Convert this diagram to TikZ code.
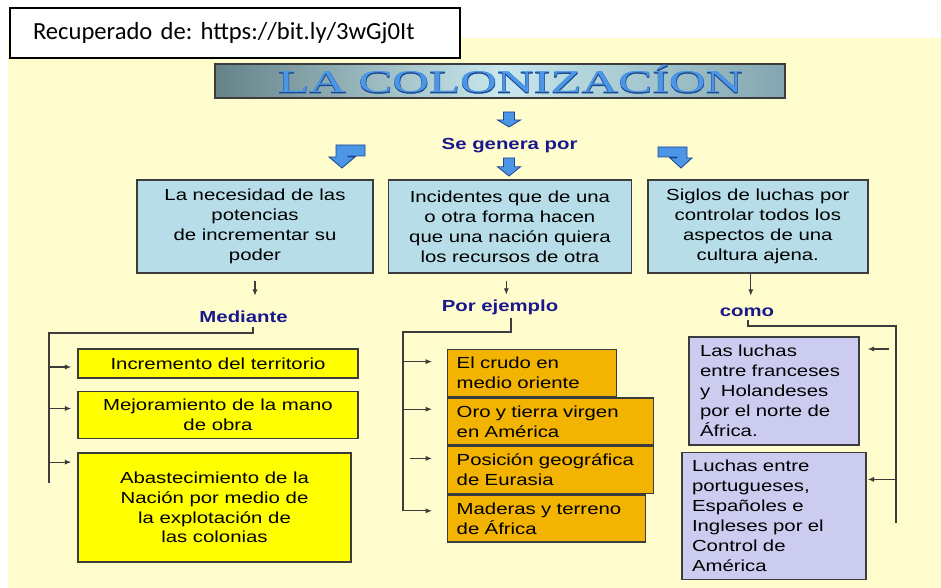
\documentclass[tikz,border=0pt]{standalone}
\usepackage{fontspec}
\usetikzlibrary{positioning,arrows.meta}
\newfontfamily\boxfont[FakeStretch=1.27]{Liberation Sans}
\newfontfamily\srcfont{Carlito}
\newfontfamily\titlefont[FakeStretch=1.6]{Liberation Serif}
\newfontfamily\titleedge[FakeStretch=1.6,FakeBold=2.5]{Liberation Serif}
\definecolor{bgyellow}{RGB}{255,252,205}
\definecolor{boxblue}{RGB}{183,221,232}
\definecolor{boxyellow}{RGB}{255,255,0}
\definecolor{boxorange}{RGB}{242,180,0}
\definecolor{boxlila}{RGB}{204,204,240}
\definecolor{arrblue}{RGB}{75,150,230}
\definecolor{arredge}{RGB}{30,70,140}
\definecolor{labelblue}{RGB}{25,25,140}
\definecolor{barleft}{RGB}{100,130,135}
\definecolor{barmid}{RGB}{200,232,238}
\definecolor{barright}{RGB}{130,165,175}
\definecolor{linegray}{RGB}{60,60,60}
\frenchspacing

\begin{document}
\begin{tikzpicture}[
        box/.style={draw=linegray,line width=1pt,fill=boxblue,align=center,
                    minimum height=2.325cm,inner sep=2pt,
                    font={\boxfont\fontsize{11.4}{14.2}\selectfont}},
        item/.style={box,fill=boxyellow,minimum width=7cm},
        ejem/.style={box,fill=boxorange,align=left,minimum height=1.175cm,inner xsep=0.225cm},
        lucha/.style={box,fill=boxlila,align=left,inner xsep=0.275cm},
        lbl/.style={font={\boxfont\bfseries\fontsize{11.4}{14.2}\selectfont},text=labelblue,inner sep=0pt},
        arr/.style={-{Latex[length=1.6mm,width=1.3mm]},linegray,line width=0.8pt},
        spine/.style={linegray,line width=0.9pt},
        blockarr/.style={fill=arrblue,draw=arredge,line width=0.6pt}]
        \useasboundingbox (0,0) rectangle (23.525,-14.7);
        \fill[white] (0,0) rectangle (23.525,-14.7);
        \fill[bgyellow] (0.2,-0.95) rectangle (23.525,-14.7);
        % fuente
        \node[draw=black,line width=1.1pt,fill=white,minimum width=11.25cm,minimum height=1.25cm,
              text width=10.1cm,inner xsep=0.575cm,align=left,
              font={\srcfont\fontsize{17.5}{19}\selectfont}] (src) at (5.875,-0.825)
              {Recuperado de: https://bit.ly/3wGj0It};
        % titulo
        \node[draw=linegray,line width=1pt,minimum width=14.25cm,minimum height=0.85cm,
              left color=barleft,right color=barright,middle color=barmid] (bar) at (12.5,-2.025) {};
        \node[anchor=base,text=arredge,font={\titleedge\fontsize{22.6}{24}\selectfont}] (titleback)
              at (12.76,-2.325) {LA COLONIZACÍON};
        \node[anchor=base,text=arrblue,font={\titlefont\fontsize{22.6}{24}\selectfont}] (title)
              at (12.76,-2.325) {LA COLONIZACÍON};
        \node[lbl,anchor=base] (gen) at (12.74,-3.7375) {Se genera por};
        % flechas de bloque
        \draw[blockarr] (12.5875,-2.8) -- (12.8625,-2.8) -- (12.8625,-3.0) -- (13.0125,-3.0)
              -- (12.725,-3.175) -- (12.4375,-3.0) -- (12.5875,-3.0) -- cycle;
        \draw[blockarr] (12.5875,-3.95) -- (12.8625,-3.95) -- (12.8625,-4.17) -- (13.0125,-4.17)
              -- (12.725,-4.4) -- (12.4375,-4.17) -- (12.5875,-4.17) -- cycle;
        \draw[blockarr] (9.125,-3.625) -- (8.4,-3.625) -- (8.4,-3.925) -- (8.225,-3.925)
              -- (8.55,-4.2) -- (8.875,-3.925) -- (8.7,-3.925) -- (8.7,-3.9) -- (9.125,-3.9) -- cycle;
        \draw[blockarr] (16.45,-3.675) -- (17.175,-3.675) -- (17.175,-3.95) -- (17.3,-3.95)
              -- (17.025,-4.2) -- (16.75,-3.95) -- (16.925,-3.95) -- (16.925,-3.925) -- (16.45,-3.925) -- cycle;
        % causas
        \node[box,minimum width=5.9cm] (b1) at (6.375,-5.6625)
              {La necesidad de las\\potencias\\de incrementar su\\poder};
        \node[box,minimum width=6.075cm,right=0.35cm of b1] (b2)
              {Incidentes que de una\\o otra forma hacen\\que una nación quiera\\los recursos de otra};
        \node[box,minimum width=5.5cm,right=0.375cm of b2] (b3)
              {Siglos de luchas por\\controlar todos los\\aspectos de una\\cultura ajena.};
        \node[lbl,anchor=base] (med) at (6.09,-8.06) {Mediante};
        \node[lbl,anchor=base] (ejm) at (12.5,-7.78) {Por ejemplo};
        \node[lbl,anchor=base] (como) at (18.675,-7.9) {como};
        \draw[arr] ([yshift=-0.175cm]b1.south) -- ([yshift=-0.55cm]b1.south);
        \draw[arr] ([xshift=-0.09cm,yshift=-0.175cm]b2.south) -- ([xshift=-0.09cm,yshift=-0.525cm]b2.south);
        \draw[arr] ([xshift=-0.175cm]b3.south) -- ([xshift=-0.175cm,yshift=-0.55cm]b3.south);
        % mediante
        \node[item,minimum height=0.725cm] (y1) at (5.45,-9.0875) {Incremento del territorio};
        \node[item,minimum height=1.175cm,below=0.3cm of y1] (y2) {Mejoramiento de la mano\\de obra};
        \node[item,minimum width=6.825cm,minimum height=2.725cm,below=0.325cm of y2.south west,
              anchor=north west] (y3) {Abastecimiento de la\\Nación por medio de\\la explotación de\\las colonias};
        \coordinate (mv) at (1.225,-8.325);
        \draw[spine] ([xshift=0.235cm,yshift=-0.115cm]med.south) |- (mv) -- ++(0,-3.75);
        \draw[arr] ([yshift=-0.0875cm]y1.west -| mv) -- ([xshift=-0.15cm,yshift=-0.0875cm]y1.west);
        \draw[arr] ([yshift=0.16cm]y2.west -| mv) -- ([xshift=-0.15cm,yshift=0.16cm]y2.west);
        \draw[arr] ([yshift=-0.25cm]y3.north west -| mv) -- ([xshift=-0.15cm,yshift=-0.25cm]y3.north west);
        % ejemplos
        \node[ejem,text width=3.775cm,anchor=north west] (o1) at (11.175,-8.725) {El crudo en\\medio oriente};
        \node[ejem,text width=4.7cm,below=0pt of o1.south west,anchor=north west] (o2) {Oro y tierra virgen\\en América};
        \node[ejem,text width=4.7cm,below=0pt of o2.south west,anchor=north west] (o3) {Posición geográfica\\de Eurasia};
        \node[ejem,text width=4.5cm,below=0pt of o3.south west,anchor=north west] (o4) {Maderas y terreno\\de África};
        \coordinate (pv) at (10.075,-8.3);
        \draw[arr] ([xshift=0.275cm,yshift=-0.08cm]ejm.south) |- (pv) |- ([xshift=-0.375cm,yshift=0.19cm]o4.west);
        \draw[arr] ([yshift=0.29cm]o1.west -| pv) -- ([xshift=-0.375cm,yshift=0.29cm]o1.west);
        \draw[arr] ([yshift=0.31cm]o2.west -| pv) -- ([xshift=-0.375cm,yshift=0.31cm]o2.west);
        \draw[arr] ([xshift=-0.925cm,yshift=0.29cm]o3.west) -- ([xshift=-0.375cm,yshift=0.29cm]o3.west);
        % luchas
        \node[lucha,text width=3.7cm,minimum height=2.7cm] (l1) at (19.35,-9.775)
              {Las luchas\\entre franceses\\y~ Holandeses\\por el norte de\\África.};
        \node[lucha,text width=4.1cm,inner xsep=0.25cm,minimum height=3.175cm,below=0.15cm of l1] (l2)
              {Luchas entre\\portugueses,\\Españoles e\\Ingleses por el\\Control de\\América};
        \coordinate (cv) at (22.4,-8.15);
        \draw[spine] ([xshift=0.025cm,yshift=-0.1cm]como.south) |- (cv) -- ++(0,-4.925);
        \draw[arr] ([xshift=0.725cm,yshift=1.05cm]l1.east) -- ([xshift=0.2cm,yshift=1.05cm]l1.east);
        \draw[arr] ([yshift=0.9125cm]l2.east -| cv) -- ([xshift=0.025cm,yshift=0.9125cm]l2.east);
    \end{tikzpicture}
\end{document}
